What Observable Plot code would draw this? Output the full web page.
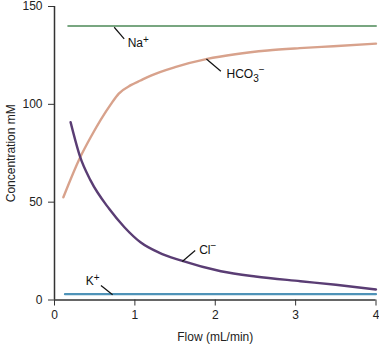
<!DOCTYPE html>
<html>
<head>
<meta charset="utf-8">
<script src="https://cdn.jsdelivr.net/npm/d3@7"></script>
<script src="https://cdn.jsdelivr.net/npm/@observablehq/plot@0.6"></script>
<style>
  html, body { margin: 0; padding: 0; background: #fff; }
  #chart svg { display: block; font-family: "Liberation Sans", Arial, sans-serif; }
  #chart svg text { font-size: 12px; }
  #chart svg text tspan.small { font-size: 10px; }
</style>
</head>
<body>
<div id="chart"></div>
<script>
// Data
const naFlow = [0.17, 4.0];
const naConc = [140, 140];

const kFlow = [0.13, 4.0];
const kConc = [3, 3];

const hco3Flow = [0.11, 0.32, 0.45, 0.70, 0.80, 0.95, 1.07, 1.20, 1.50, 1.90, 2.25, 2.65, 3.05, 3.47, 4.0];
const hco3Conc = [52.5, 73.0, 83.2, 100.0, 105.5, 109.8, 112.2, 114.7, 119.0, 123.2, 125.6, 127.5, 128.7, 129.7, 131];

const clFlow = [0.20, 0.32, 0.45, 0.68, 0.87, 1.07, 1.30, 1.57, 2.07, 2.50, 3.06, 3.50, 4.0];
const clConc = [90.9, 73.0, 61.0, 46.6, 37.2, 29.5, 24.2, 20.2, 14.7, 12.0, 9.6, 7.8, 5.4];

const labelBase = ["Na", "HCO", "Cl", "K"];
const labelSub = ["", "3", "", ""];
const labelSup = ["+", "−", "−", "+"];
const labelX = [0.91, 2.14, 1.80, 0.39];
const labelY = [131.2, 115.2, 25.7, 9.6];
const leaderX1 = [0.743, 1.89, 1.59, 0.578];
const leaderY1 = [139.4, 123.2, 19.7, 7.4];
const leaderX2 = [0.867, 2.07, 1.75, 0.723];
const leaderY2 = [133.5, 116.9, 25.3, 2.7];

const xTicks = [0, 1, 2, 3, 4];
const yTicks = [0, 50, 100, 150];

const zip = (xs, ys) => xs.map((x, i) => ({x, y: ys[i]}));
const labels = labelBase.map((t, i) => ({t, x: labelX[i], y: labelY[i]}));
const leaders = labelBase.map((t, i) => ({x1: leaderX1[i], y1: leaderY1[i], x2: leaderX2[i], y2: leaderY2[i]}));

const axisColor = "#333";

const chart = Plot.plot({
  width: 379,
  height: 345,
  marginLeft: 54,
  marginRight: 3.5,
  marginTop: 6,
  marginBottom: 45.5,
  style: {background: "#fff", color: "#222"},
  x: {domain: [0, 4]},
  y: {domain: [0, 150]},
  marks: [
    Plot.axisX({ticks: xTicks, tickFormat: "d", tickSize: 6, tickPadding: 4, stroke: axisColor, label: "Flow (mL/min)", labelAnchor: "center", labelArrow: "none", labelOffset: 41}),
    Plot.axisY({ticks: yTicks, tickFormat: "d", tickSize: 6, tickPadding: 6, stroke: axisColor, label: "Concentration mM", labelAnchor: "center", labelArrow: "none", labelOffset: 48}),
    Plot.ruleY([0], {stroke: axisColor, strokeWidth: 1.5}),
    Plot.ruleX([0], {y1: 0, y2: 150, stroke: axisColor, strokeWidth: 1.5}),
    Plot.lineY(zip(naFlow, naConc), {x: "x", y: "y", stroke: "#78a680", strokeWidth: 2}),
    Plot.lineY(zip(kFlow, kConc), {x: "x", y: "y", stroke: "#4f93b8", strokeWidth: 2.2}),
    Plot.lineY(zip(hco3Flow, hco3Conc), {x: "x", y: "y", stroke: "#d8a28c", strokeWidth: 2.4, curve: "monotone-x"}),
    Plot.lineY(zip(clFlow, clConc), {x: "x", y: "y", stroke: "#5a3d74", strokeWidth: 2.4, curve: "monotone-x"}),
    Plot.link(leaders, {x1: "x1", y1: "y1", x2: "x2", y2: "y2", stroke: "#111", strokeWidth: 1.2}),
    Plot.text(labels, {x: "x", y: "y", text: "t", textAnchor: "start", fill: "#111", className: "ionlabel"})
  ]
});

// add subscripts / superscripts as real tspans
d3.select(chart).selectAll("g.ionlabel text").each(function(d) {
  const t = d3.select(this);
  const sub = labelSub[d], sup = labelSup[d];
  if (sub) t.append("tspan").attr("class", "small").attr("dy", 3.5).text(sub);
  if (sup) t.append("tspan").attr("class", "small").attr("dy", sub ? -9 : -4.5).text(sup);
});

document.getElementById("chart").appendChild(chart);
</script>
</body>
</html>
